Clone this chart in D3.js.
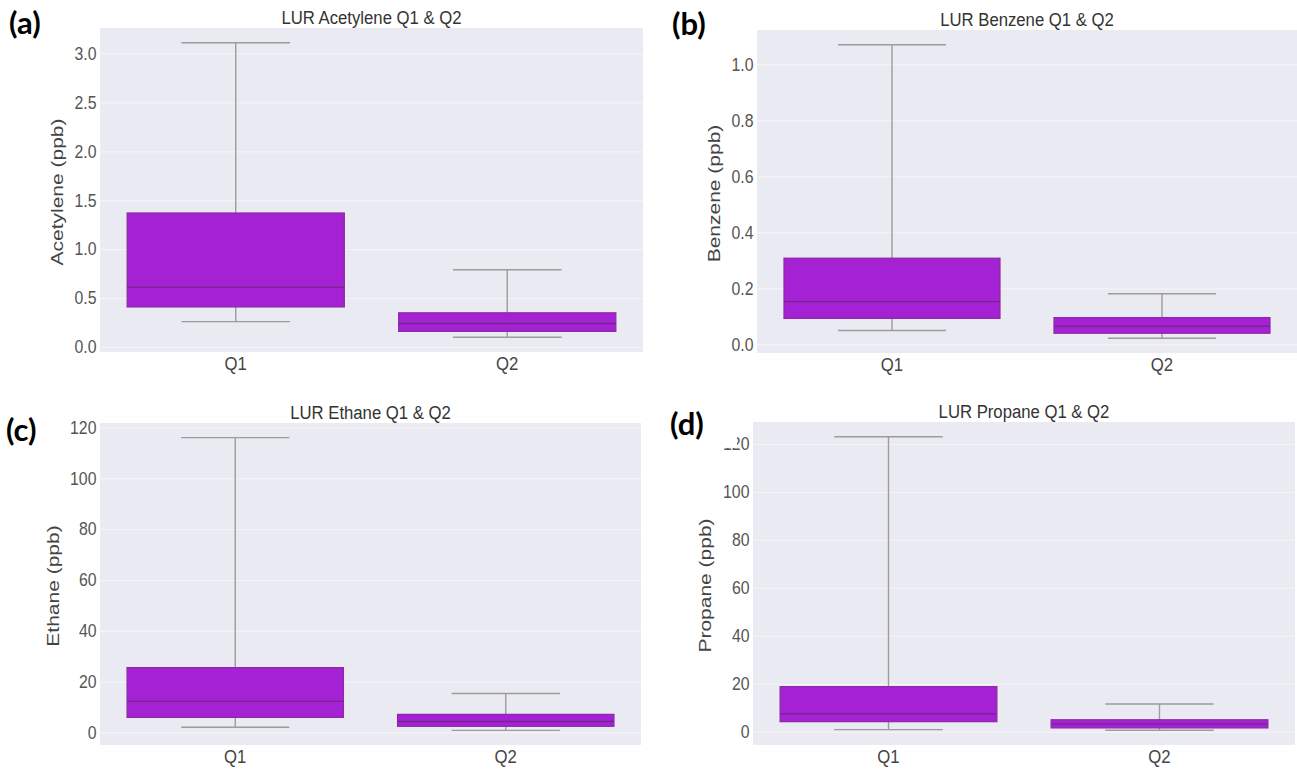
<!DOCTYPE html>
<html>
<head>
<meta charset="utf-8">
<script src="https://cdn.jsdelivr.net/npm/d3@7/dist/d3.min.js"></script>
<style>
  body { margin: 0; background: #fff; }
  svg { display: block; }
</style>
</head>
<body>
<svg id="chart" width="1297" height="772"></svg>
<script>
// categories shared by every panel
var categories = ['Q1', 'Q2'];

// five number summaries per box: [low whisker, Q1, median, Q3, high whisker]
var acetyleneQ1 = [0.26, 0.41, 0.61, 1.37, 3.11],
    acetyleneQ2 = [0.10, 0.16, 0.24, 0.35, 0.79];
var benzeneQ1 = [0.050, 0.093, 0.153, 0.308, 1.07],
    benzeneQ2 = [0.022, 0.040, 0.065, 0.096, 0.181];
var ethaneQ1 = [2.0, 5.9, 12.2, 25.5, 116],
    ethaneQ2 = [0.8, 2.4, 4.3, 7.1, 15.3];
var propaneQ1 = [0.9, 4.2, 7.5, 18.8, 123],
    propaneQ2 = [0.6, 1.6, 3.3, 5.0, 11.6];

// tick labels on the y axes
var acetyleneTicks = [0, 0.5, 1.0, 1.5, 2.0, 2.5, 3.0],
    benzeneTicks = [0, 0.2, 0.4, 0.6, 0.8, 1.0],
    ethaneTicks = [0, 20, 40, 60, 80, 100, 120],
    propaneTicks = [0, 20, 40, 60, 80, 100, 120];

var panels = [
    { tag: '(a)', title: 'LUR Acetylene Q1 & Q2', ylabel: 'Acetylene (ppb)', boxes: [acetyleneQ1, acetyleneQ2],
      ticks: acetyleneTicks, fmt: '.1f', left: 100, right: 643, top: 28, bottom: 352,
      tagX: 9, tagY: 34, labelX: 63 },
    { tag: '(b)', title: 'LUR Benzene Q1 & Q2', ylabel: 'Benzene (ppb)', boxes: [benzeneQ1, benzeneQ2],
      ticks: benzeneTicks, fmt: '.1f', left: 757, right: 1297, top: 30, bottom: 353,
      tagX: 672, tagY: 35, labelX: 720 },
    { tag: '(c)', title: 'LUR Ethane Q1 & Q2', ylabel: 'Ethane (ppb)', boxes: [ethaneQ1, ethaneQ2],
      ticks: ethaneTicks, fmt: 'd', left: 100, right: 641, top: 423, bottom: 745,
      tagX: 6, tagY: 441, labelX: 59 },
    { tag: '(d)', title: 'LUR Propane Q1 & Q2', ylabel: 'Propane (ppb)', boxes: [propaneQ1, propaneQ2],
      ticks: propaneTicks, fmt: 'd', left: 753, right: 1295, top: 422, bottom: 745,
      tagX: 670, tagY: 435, labelX: 711, maskTop: true }
];

var bgColor = '#eaeaf2',
    boxColor = '#a422d3',
    edgeColor = '#8a2aa6',
    medianColor = '#74268c',
    whiskerColor = '#9c9c9c',
    fontFamily = '"Liberation Sans", Arial, sans-serif',
    squeeze = 0.88;   // source figure text looks horizontally condensed

var svg = d3.select('#chart');

panels.forEach(function(p) {

    var g = svg.append('g');

    var x = d3.scaleBand()
        .domain(categories)
        .range([p.left, p.right]);

    // matplotlib style autoscale: data range plus 5% margin
    var lo = d3.min(p.boxes, function(b) { return b[0]; }),
        hi = d3.max(p.boxes, function(b) { return b[4]; }),
        pad = (hi - lo) * 0.05;

    var y = d3.scaleLinear()
        .domain([lo - pad, hi + pad])
        .range([p.bottom, p.top]);

    g.append('rect')
        .attr('x', p.left)
        .attr('y', p.top)
        .attr('width', p.right - p.left)
        .attr('height', p.bottom - p.top)
        .attr('fill', bgColor);

    // faint white grid
    var grid = g.append('g')
        .attr('transform', 'translate(' + p.left + ',0)')
        .call(d3.axisLeft(y).tickValues(p.ticks).tickSize(-(p.right - p.left)).tickFormat(''));
    grid.select('.domain').remove();
    grid.selectAll('line').attr('stroke', '#fff').attr('stroke-opacity', 0.55).attr('stroke-width', 1);

    var yAxis = g.append('g')
        .attr('transform', 'translate(' + p.left + ',0)')
        .call(d3.axisLeft(y).tickValues(p.ticks).tickSize(0).tickPadding(4).tickFormat(d3.format(p.fmt)));
    yAxis.select('.domain').remove();
    yAxis.selectAll('text')
        .attr('transform', 'scale(' + squeeze + ',1)')
        .attr('font-family', fontFamily)
        .attr('font-size', 18)
        .attr('fill', '#555');

    var xAxis = g.append('g')
        .attr('transform', 'translate(0,' + p.bottom + ')')
        .call(d3.axisBottom(x).tickSize(0).tickPadding(5));
    xAxis.select('.domain').remove();
    xAxis.selectAll('text')
        .attr('transform', 'scale(' + squeeze + ',1)')
        .attr('font-family', fontFamily)
        .attr('font-size', 19)
        .attr('fill', '#444');

    var bw = x.bandwidth() * 0.8;

    var boxes = g.selectAll('g.box')
        .data(p.boxes)
        .enter()
            .append('g')
            .attr('class', 'box')
            .attr('transform', function(d, i) {
                return 'translate(' + (x(categories[i]) + x.bandwidth() / 2) + ',0)';
            });

    // whiskers
    boxes.append('line')
        .attr('x1', 0).attr('x2', 0)
        .attr('y1', function(d) { return y(d[0]); })
        .attr('y2', function(d) { return y(d[4]); })
        .attr('stroke', whiskerColor).attr('stroke-width', 1.4);

    boxes.selectAll('line.cap')
        .data(function(d) { return [d[0], d[4]]; })
        .enter()
            .append('line')
            .attr('class', 'cap')
            .attr('x1', -bw / 4).attr('x2', bw / 4)
            .attr('y1', function(v) { return y(v); })
            .attr('y2', function(v) { return y(v); })
            .attr('stroke', whiskerColor).attr('stroke-width', 1.4);

    boxes.append('rect')
        .attr('x', -bw / 2)
        .attr('width', bw)
        .attr('y', function(d) { return y(d[3]); })
        .attr('height', function(d) { return y(d[1]) - y(d[3]); })
        .attr('fill', boxColor)
        .attr('stroke', edgeColor)
        .attr('stroke-width', 1.2);

    boxes.append('line')
        .attr('x1', -bw / 2).attr('x2', bw / 2)
        .attr('y1', function(d) { return y(d[2]); })
        .attr('y2', function(d) { return y(d[2]); })
        .attr('stroke', medianColor).attr('stroke-width', 1.4);

    g.append('text')
        .attr('transform', 'translate(' + ((p.left + p.right) / 2) + ',' + (p.top - 4) + ') scale(' + squeeze + ',1)')
        .attr('text-anchor', 'middle')
        .attr('font-family', fontFamily)
        .attr('font-size', 19)
        .attr('fill', '#333')
        .text(p.title);

    g.append('text')
        .attr('transform', 'translate(' + p.labelX + ',' + ((p.top + p.bottom) / 2 + 2) + ') rotate(-90) scale(1,0.8)')
        .attr('text-anchor', 'middle')
        .attr('font-family', fontFamily)
        .attr('font-size', 21)
        .attr('fill', '#444')
        .text(p.ylabel);

    g.append('text')
        .attr('x', p.tagX)
        .attr('y', p.tagY)
        .attr('font-family', 'Lato, "Open Sans", sans-serif')
        .attr('font-weight', 'bold')
        .attr('font-size', 31)
        .attr('fill', '#000')
        .text(p.tag);

    // the top tick label of panel (d) is partly hidden in the source figure
    if (p.maskTop) {
        var topTick = p.ticks[p.ticks.length - 1];
        g.append('rect')
            .attr('x', p.left - 40)
            .attr('y', y(topTick) - 13)
            .attr('width', 24)
            .attr('height', 17)
            .attr('fill', '#fff');
    }
});
</script>
</body>
</html>
